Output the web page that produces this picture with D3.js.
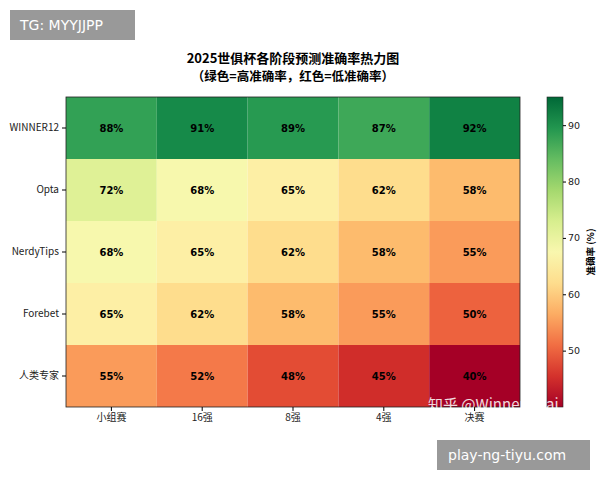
<!DOCTYPE html>
<html><head><meta charset="utf-8">
<script src="https://cdn.jsdelivr.net/npm/d3@7"></script>
<style>body{margin:0;background:#fff}text{font-family:"DejaVu Sans","Noto Sans CJK SC",sans-serif}</style>
</head><body>
<svg id="chart" width="600" height="480"></svg>
<script>
const models = ["WINNER12", "Opta", "NerdyTips", "Forebet", "人类专家"];
const stages = ["小组赛", "16强", "8强", "4强", "决赛"];
const accuracy = [
  [88, 91, 89, 87, 92],
  [72, 68, 65, 62, 58],
  [68, 65, 62, 58, 55],
  [65, 62, 58, 55, 50],
  [55, 52, 48, 45, 40]
];
const cbTicks = [50, 60, 70, 80, 90];

const svg = d3.select("#chart");
const cjk = "'Noto Sans CJK SC','DejaVu Sans',sans-serif";

const x = d3.scaleBand().domain(stages).range([66, 520]);
const y = d3.scaleBand().domain(models).range([97, 407]);
const color = d3.scaleSequential(v => d3.interpolateRdYlGn(v)).domain([40, 95]);

// title
svg.append("text").attr("x", 293).attr("y", 63).attr("text-anchor", "middle")
  .style("font-family", cjk).style("font-weight", "bold").style("font-size", "13px")
  .text("2025世俱杯各阶段预测准确率热力图");
svg.append("text").attr("x", 293).attr("y", 81).attr("text-anchor", "middle")
  .style("font-family", cjk).style("font-weight", "bold").style("font-size", "12.5px")
  .text("（绿色=高准确率，红色=低准确率）");

// cells
const cells = [];
accuracy.forEach((row, i) => row.forEach((v, j) => cells.push({ m: models[i], s: stages[j], v })));
svg.append("g").selectAll("rect").data(cells).join("rect")
  .attr("x", d => x(d.s)).attr("y", d => y(d.m))
  .attr("width", x.bandwidth()).attr("height", y.bandwidth())
  .attr("fill", d => color(d.v));
svg.append("g").selectAll("text").data(cells).join("text")
  .attr("x", d => x(d.s) + x.bandwidth() / 2).attr("y", d => y(d.m) + y.bandwidth() / 2)
  .attr("dy", "0.35em").attr("text-anchor", "middle")
  .style("font-size", "10px").style("font-weight", "bold")
  .text(d => d.v + "%");
svg.append("rect").attr("x", 66).attr("y", 97).attr("width", 454).attr("height", 310)
  .attr("fill", "none").attr("stroke", "#222").attr("stroke-width", 0.8);

// axes
const xa = svg.append("g").attr("transform", "translate(0,407)").call(d3.axisBottom(x).tickSize(4));
const ya = svg.append("g").attr("transform", "translate(66,0)").call(d3.axisLeft(y).tickSize(4));
[xa, ya].forEach(a => {
  a.select(".domain").remove();
  a.selectAll("text").style("font-family", cjk).style("font-size", "10px").attr("fill", "#222");
});

// colorbar
const defs = svg.append("defs");
const grad = defs.append("linearGradient").attr("id", "cb").attr("x1", 0).attr("x2", 0).attr("y1", 1).attr("y2", 0);
d3.range(0, 1.01, 0.1).forEach(t => grad.append("stop").attr("offset", t).attr("stop-color", color(40 + t * 55)));
svg.append("rect").attr("x", 547).attr("y", 97).attr("width", 16).attr("height", 310)
  .attr("fill", "url(#cb)").attr("stroke", "#222").attr("stroke-width", 0.6);
const cy = d3.scaleLinear().domain([40, 95]).range([407, 97]);
const ca = svg.append("g").attr("transform", "translate(563,0)").call(d3.axisRight(cy).tickValues(cbTicks).tickSize(3).tickPadding(2));
ca.select(".domain").remove();
ca.selectAll("text").style("font-size", "9.5px").attr("fill", "#222");
svg.append("text").attr("transform", "translate(594,252) rotate(-90)").attr("text-anchor", "middle")
  .style("font-family", cjk).style("font-size", "9.5px").style("font-weight", "bold").text("准确率 (%)");

// watermarks
svg.append("rect").attr("x", 10).attr("y", 10).attr("width", 125).attr("height", 30).attr("fill", "#999");
svg.append("text").attr("x", 20).attr("y", 30).attr("fill", "#fff").style("font-size", "14px").text("TG: MYYJJPP");
svg.append("rect").attr("x", 437).attr("y", 440).attr("width", 153).attr("height", 30).attr("fill", "#999");
svg.append("text").attr("x", 448).attr("y", 460).attr("fill", "#fff").style("font-size", "14px").text("play-ng-tiyu.com");
svg.append("text").attr("x", 428).attr("y", 410).attr("fill", "#fff").attr("opacity", 0.85)
  .style("font-family", cjk).style("font-size", "15px").text("知乎 @Winner12.ai");
</script>
</body></html>
